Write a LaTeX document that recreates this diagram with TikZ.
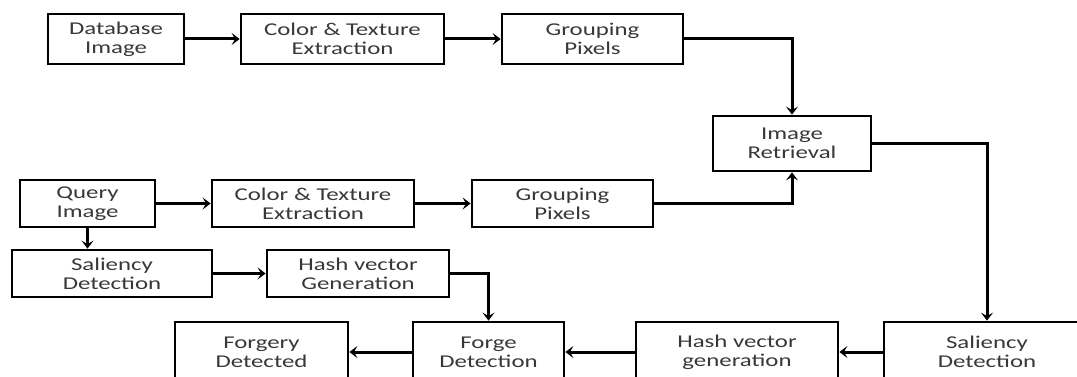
\documentclass[tikz,border=0pt]{standalone}
\usepackage{fontspec}
\setmainfont{Carlito}[FakeStretch=1.38]
\usetikzlibrary{arrows.meta,positioning}
\tikzset{
  box/.style={draw=black, line width=2.8pt, fill=white, align=center,
    inner sep=0pt, text=black!78,
    font=\fontsize{18}{19}\selectfont},
  conn/.style={line width=3pt, -{Stealth[length=8pt,width=12pt,inset=3.5pt]}},
}
\begin{document}
\begin{tikzpicture}[x=1pt,y=-1pt]
\useasboundingbox (0,0) rectangle (1077,377);
\clip (0,0) rectangle (1077,377);
% top row
\node[box, minimum width=136pt, minimum height=50pt] (db)  at (116,39)   {Database\\Image};
\node[box, minimum width=203pt, minimum height=50pt] (ct1) at (342.5,39) {Color \& Texture\\Extraction};
\node[box, minimum width=181pt, minimum height=50pt] (gp1) at (592.5,39) {Grouping\\Pixels};
\node[box, minimum width=158pt, minimum height=55pt] (ir)  at (792,143.5) {Image\\Retrieval};
% query row
\node[box, minimum width=135pt, minimum height=47pt] (qi)  at (87.5,203.5) {Query\\Image};
\node[box, minimum width=202pt, minimum height=47pt] (ct2) at (313,203.5)  {Color \& Texture\\Extraction};
\node[box, minimum width=181pt, minimum height=47pt] (gp2) at (562.5,203.5) {Grouping\\Pixels};
% saliency row
\node[box, minimum width=200pt, minimum height=47pt] (sd1) at (112,273.5) {Saliency\\Detection};
\node[box, minimum width=182pt, minimum height=47pt] (hv1) at (358,273.5) {Hash vector\\Generation};
% bottom row
\node[box, minimum width=173pt, minimum height=60pt] (fd)  at (261.5,352) {Forgery\\Detected};
\node[box, minimum width=151pt, minimum height=60pt] (fg)  at (488.5,352) {Forge\\Detection};
\node[box, minimum width=202pt, minimum height=60pt] (hv2) at (737,352)   {Hash vector\\generation};
\node[box, minimum width=206pt, minimum height=60pt] (sd2) at (987,352)   {Saliency\\Detection};
% connectors
\draw[conn] (db) -- (ct1);
\draw[conn] (ct1) -- (gp1);
\draw[conn] (gp1.east) -| (ir.north);
\draw[conn] (qi) -- (ct2);
\draw[conn] (ct2) -- (gp2);
\draw[conn] (gp2.east) -| (ir.south);
\draw[conn] (ir.east) -| (sd2.north);
\draw[conn] (qi.south) -- (sd1.north -| qi.south);
\draw[conn] (sd1) -- (hv1);
\draw[conn] (hv1.east) -| (fg.north);
\draw[conn] (sd2) -- (hv2);
\draw[conn] (hv2) -- (fg);
\draw[conn] (fg) -- (fd);
\end{tikzpicture}
\end{document}
